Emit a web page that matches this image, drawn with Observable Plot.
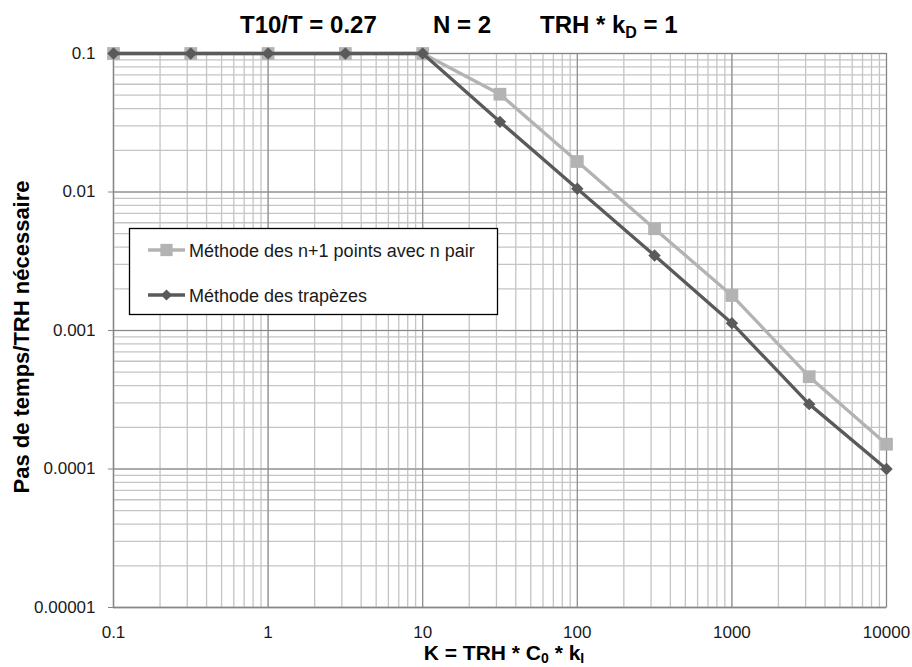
<!DOCTYPE html>
<html>
<head>
<meta charset="utf-8">
<script src="https://cdn.jsdelivr.net/npm/d3@7"></script>
<script src="https://cdn.jsdelivr.net/npm/@observablehq/plot@0.6"></script>
<style>
  html, body { margin: 0; padding: 0; background: #fff; }
  svg { display: block; }
</style>
</head>
<body>
<div id="chart"></div>
<script>
// ---- data ----
const kValues = [0.1, 0.316, 1, 3.16, 10, 31.6, 100, 316, 1000, 3162, 10000];
const pairValues = [0.1, 0.1, 0.1, 0.1, 0.1, 0.0508, 0.0166, 0.00543, 0.00179, 0.000464, 0.000151];
const trapValues = [0.1, 0.1, 0.1, 0.1, 0.1, 0.0321, 0.01057, 0.00348, 0.00113, 0.000294, 0.0001];
const seriesNames = ["Méthode des n+1 points avec n pair", "Méthode des trapèzes"];

const xTicks = [0.1, 1, 10, 100, 1000, 10000];
const xTickLabels = ["0.1", "1", "10", "100", "1000", "10000"];
const yTicks = [0.1, 0.01, 0.001, 0.0001, 0.00001];
const yTickLabels = ["0.1", "0.01", "0.001", "0.0001", "0.00001"];

const xDomain = [0.1, 10000];
const yDomain = [0.00001, 0.1];

// ---- build tables ----
const pairData = kValues.map((k, i) => ({k, v: pairValues[i]}));
const trapData = kValues.map((k, i) => ({k, v: trapValues[i]}));
const xLabelMap = new Map(xTicks.map((t, i) => [t, xTickLabels[i]]));
const yLabelMap = new Map(yTicks.map((t, i) => [t, yTickLabels[i]]));
const xGrid = d3.scaleLog().domain(xDomain).ticks();
const yGrid = d3.scaleLog().domain(yDomain).ticks();

const lightColor = "#b3b3b3";
const darkColor = "#5a5a5a";
const minorColor = "#c4c4c4";
const majorColor = "#868686";

const svg = Plot.plot({
  width: 912,
  height: 667,
  marginLeft: 113,
  marginRight: 26,
  marginTop: 53,
  marginBottom: 60,
  style: {
    fontFamily: "'Liberation Sans', Arial, sans-serif",
    fontSize: "17px",
    color: "#1a1a1a",
    background: "#fff"
  },
  x: {type: "log", domain: xDomain},
  y: {type: "log", domain: yDomain},
  marks: [
    Plot.ruleX(xGrid, {stroke: minorColor, strokeWidth: 1.3}),
    Plot.ruleY(yGrid, {stroke: minorColor, strokeWidth: 1.3}),
    Plot.frame({stroke: "#bdbdbd", strokeWidth: 1.3}),
    Plot.ruleX(xTicks, {stroke: majorColor, strokeWidth: 1}),
    Plot.ruleY(yTicks, {stroke: majorColor, strokeWidth: 1}),
    Plot.ruleY([yDomain[0]], {stroke: majorColor, strokeWidth: 1.3}),
    Plot.ruleX([xDomain[0]], {stroke: majorColor, strokeWidth: 1.3}),
    Plot.axisY(yTicks, {
      tickFormat: d => yLabelMap.get(d),
      tickSize: 5, tickPadding: 13, label: null,
      stroke: majorColor, fill: "#1a1a1a", fontSize: 17
    }),
    Plot.axisX(xTicks, {
      tickFormat: d => xLabelMap.get(d),
      tickSize: 0, tickPadding: 18, label: null,
      fill: "#1a1a1a", fontSize: 17
    }),
    Plot.line(pairData, {x: "k", y: "v", stroke: lightColor, strokeWidth: 3.3}),
    Plot.dot(pairData, {x: "k", y: "v", symbol: "square", r: 7.2, fill: lightColor, stroke: "none"}),
    Plot.line(trapData, {x: "k", y: "v", stroke: darkColor, strokeWidth: 3.3}),
    Plot.dot(trapData, {x: "k", y: "v", symbol: "diamond2", r: 5.6, fill: darkColor, stroke: "none"})
  ]
});

document.getElementById("chart").appendChild(svg);

const s = d3.select(svg);
const font = "'Liberation Sans', Arial, sans-serif";

// ---- title ----
const titleG = s.append("g")
  .attr("font-family", font)
  .attr("font-weight", "bold")
  .attr("font-size", 24)
  .attr("text-anchor", "start")
  .attr("fill", "#000");
titleG.append("text").attr("x", 240).attr("y", 33).text("T10/T = 0.27");
titleG.append("text").attr("x", 433).attr("y", 33).text("N = 2");
const t3 = titleG.append("text").attr("x", 540).attr("y", 33);
t3.append("tspan").text("TRH * k");
t3.append("tspan").attr("font-size", 16).attr("dy", 5).text("D");
t3.append("tspan").attr("dy", -5).text(" = 1");

// ---- axis titles ----
s.append("text")
  .attr("font-family", font)
  .attr("font-weight", "bold")
  .attr("font-size", 22)
  .attr("text-anchor", "middle")
  .attr("fill", "#000")
  .attr("transform", "translate(29,337) rotate(-90)")
  .text("Pas de temps/TRH nécessaire");

const xl = s.append("text")
  .attr("font-family", font)
  .attr("font-weight", "bold")
  .attr("font-size", 21)
  .attr("text-anchor", "middle")
  .attr("fill", "#000")
  .attr("x", 504)
  .attr("y", 660);
xl.append("tspan").text("K = TRH * C");
xl.append("tspan").attr("font-size", 14).attr("dy", 3).text("0");
xl.append("tspan").attr("dy", -3).text(" * k");
xl.append("tspan").attr("font-size", 14).attr("dy", 3).text("I");

// ---- legend ----
const lg = s.append("g").attr("font-family", font).attr("font-size", 18).attr("text-anchor", "start");
lg.append("rect")
  .attr("x", 129.5).attr("y", 228.5).attr("width", 368).attr("height", 86)
  .attr("fill", "#fff").attr("stroke", "#000").attr("stroke-width", 1.3);
const entries = [
  {name: seriesNames[0], color: lightColor, sym: d3.symbolSquare, size: 150, y: 250},
  {name: seriesNames[1], color: darkColor, sym: d3.symbolDiamond2, size: 80, y: 295}
];
entries.forEach(e => {
  lg.append("line").attr("x1", 148).attr("x2", 185).attr("y1", e.y).attr("y2", e.y)
    .attr("stroke", e.color).attr("stroke-width", 3.3);
  lg.append("path").attr("d", d3.symbol(e.sym, e.size)())
    .attr("transform", `translate(166.5,${e.y})`).attr("fill", e.color);
  lg.append("text").attr("x", 189).attr("y", e.y + 7).attr("fill", "#1a1a1a").text(e.name);
});
</script>
</body>
</html>
